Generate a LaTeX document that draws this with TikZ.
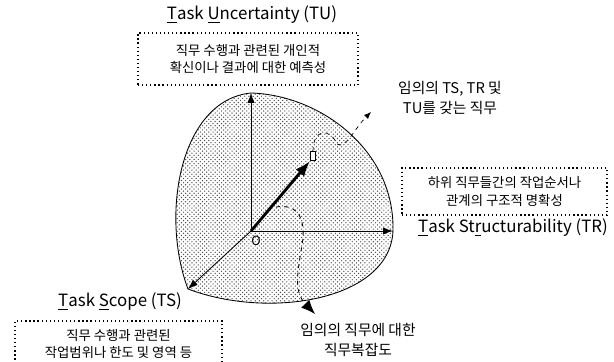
\documentclass[tikz,border=0pt]{standalone}
\usepackage{fontspec}
\setmainfont{Noto Sans CJK KR}
\usetikzlibrary{arrows.meta, patterns}

\begin{document}
\begin{tikzpicture}[x=0.025cm, y=-0.025cm, >={Latex[length=7pt, width=5pt]},
    notebox/.style={draw, dotted, line width=0.9pt, align=center, inner sep=0pt,
        font=\fontsize{9.5}{12.5}\selectfont},
    axislabel/.style={font=\fontsize{12}{14}\selectfont},
    remark/.style={align=center, font=\fontsize{10.5}{14}\selectfont}]
    \useasboundingbox (0,0) rectangle (614,362);

    % 1. Hệ trục (các mút)
    \coordinate (O) at (251,231);
    \coordinate (tu) at (251,93);
    \coordinate (tr) at (393,231);
    \coordinate (ts) at (188,289);
    \coordinate (p) at (310,161);

    % 2. Vùng phức tạp của công việc
    \draw[line width=0.6pt, pattern=crosshatch dots, pattern color=black!70]
        (ts) .. controls (160,215) and (180,100) .. (tu)
        .. controls (320,95) and (395,150) .. (tr)
        .. controls (390,300) and (270,320) .. (ts) -- cycle;

    % 3. Các trục và véc-tơ công việc
    \foreach \tip in {tu,tr,ts} {
        \draw[->, line width=0.6pt] (O) -- (\tip);
    }
    \node (o) at (256,241) {\small O};
    \draw[-{Latex[length=11pt, width=8pt]}, line width=2pt] (O) -- (p);
    \node[draw, fill=white, line width=0.5pt, inner sep=0pt,
        minimum width=4pt, minimum height=6pt] (job) at (313,156) {};

    % 4. Các đường chú thích
    \coordinate (up) at (371,112);
    \coordinate (down) at (315,314);
    \draw[dashed, line width=0.5pt, -{Latex[length=5pt, width=4pt]}] (job.north)
        .. controls (313,128) and (330,128) .. (337,144)
        .. controls (345,150) and (355,128) .. (up);
    \draw[dashed, line width=0.6pt, -{Latex[length=10pt, width=8pt]}] (276,207)
        .. controls (300,203) and (306,222) .. (302,245)
        .. controls (297,275) and (294,292) .. (down);

    % 5. Nhãn trục và hộp giải thích
    \node[axislabel] (tulabel) at (252,15) {\underline{T}ask \underline{U}ncertainty (TU)};
    \node[notebox, minimum width=5.5cm, minimum height=1.3cm] (tubox) at (248,59)
        {직무 수행과 관련된 개인적\\확신이나 결과에 대한 예측성};
    \node[axislabel] (trlabel) at (513,228) {\underline{T}ask St\underline{r}ucturability (TR)};
    \node[notebox, minimum width=5.125cm, minimum height=1.175cm] (trbox) at (504.5,191.5)
        {하위 직무들간의 작업순서나\\관계의 구조적 명확성};
    \node[axislabel] (tslabel) at (120,302) {\underline{T}ask \underline{S}cope (TS)};
    \node[notebox, minimum width=5.175cm, minimum height=1.15cm] (tsbox) at (118.5,344)
        {직무 수행과 관련된\\작업범위나 한도 및 영역 등};
    \node[remark] (jobnote) at (450,98) {임의의 TS, TR 및\\TU를 갖는 직무};
    \node[remark] (cplxnote) at (358,340) {임의의 직무에 대한\\직무복잡도};
\end{tikzpicture}
\end{document}
